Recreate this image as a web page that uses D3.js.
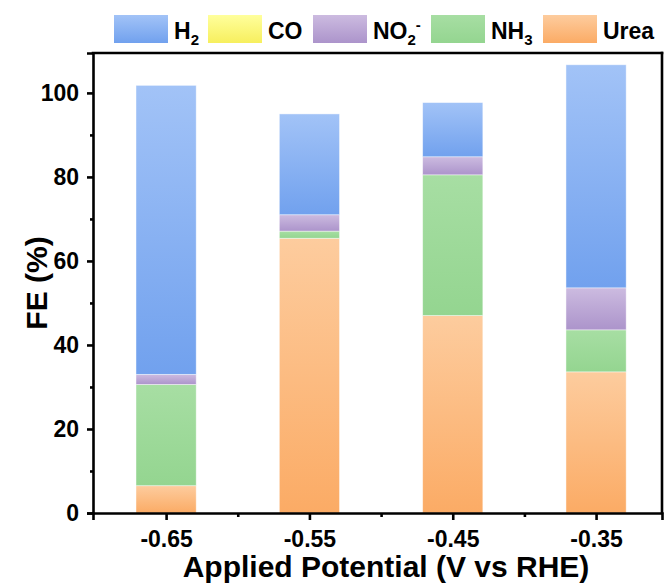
<!DOCTYPE html>
<html>
<head>
<meta charset="utf-8">
<script src="https://cdn.jsdelivr.net/npm/d3@7"></script>
<style>
  body { margin: 0; background: #fff; }
  svg { display: block; }
  text { font-family: "Liberation Sans", Arial, sans-serif; font-weight: bold; fill: #000; }
</style>
</head>
<body>
<svg id="chart" width="667" height="586"></svg>
<script>
// Faradaic efficiency (%) of each product at each applied potential
const potentials = [-0.65, -0.55, -0.45, -0.35];
const urea = [6.5, 65.4, 47.0, 33.6];
const nh3  = [24.1, 1.7, 33.5, 10.0];
const no2  = [2.4, 3.9, 4.3, 10.0];
const co   = [0, 0, 0, 0];
const h2   = [68.8, 24.0, 12.9, 53.1];

// stacking order, bottom to top
const seriesKeys = ["urea", "nh3", "no2", "co", "h2"];
// legend order, left to right
const legendKeys = ["h2", "co", "no2", "nh3", "urea"];

const yTicks = [0, 20, 40, 60, 80, 100];
const yMinorTicks = [10, 30, 50, 70, 90];
const xTicks = [-0.65, -0.55, -0.45, -0.35];
const xMinorTicks = [-0.60, -0.50, -0.40];
const xTickLabels = ["-0.65", "-0.55", "-0.45", "-0.35"];

const yTitle = "FE (%)";
const xTitle = "Applied Potential (V vs RHE)";

// label pieces: [main text, subscript, superscript]
const legendLabels = {
  h2:   ["H", "2", ""],
  co:   ["CO", "", ""],
  no2:  ["NO", "2", "-"],
  nh3:  ["NH", "3", ""],
  urea: ["Urea", "", ""]
};

// vertical gradient stops (top, bottom) per product
const gradStops = {
  h2:   ["#a2c3f7", "#71a1ee"],
  co:   ["#ffff9c", "#f7ef5e"],
  no2:  ["#ccbbe0", "#ac94cb"],
  nh3:  ["#a7dea3", "#94d590"],
  urea: ["#fdcc9e", "#fbab65"]
};

const rows = potentials.map((p, i) => ({
  p, urea: urea[i], nh3: nh3[i], no2: no2[i], co: co[i], h2: h2[i]
}));

const svg = d3.select("#chart");

const x = d3.scaleLinear().domain([-0.701, -0.304]).range([93, 662]);
const y = d3.scaleLinear().domain([0, 109.5]).range([513, 53]);

const defs = svg.append("defs");
Object.keys(gradStops).forEach(k => {
  const g = defs.append("linearGradient")
    .attr("id", "grad-" + k)
    .attr("x1", 0).attr("y1", 0).attr("x2", 0).attr("y2", 1);
  g.append("stop").attr("offset", "0%").attr("stop-color", gradStops[k][0]);
  g.append("stop").attr("offset", "100%").attr("stop-color", gradStops[k][1]);
});

// stacked bars
const stack = d3.stack().keys(seriesKeys);
const layers = stack(rows);
const barW = (x(potentials[1]) - x(potentials[0])) * 0.42;

svg.append("g").selectAll("g")
  .data(layers)
  .join("g")
  .attr("fill", d => `url(#grad-${d.key})`)
  .selectAll("rect")
  .data(d => d.filter(s => s[1] - s[0] > 0))
  .join("rect")
  .attr("x", d => x(d.data.p) - barW / 2)
  .attr("width", barW)
  .attr("y", d => y(d[1]))
  .attr("height", d => y(d[0]) - y(d[1]))
  .attr("stroke", "rgba(255,255,255,0.55)")
  .attr("stroke-width", 0.8);

// axes
const axisW = 2.6;

const yAxis = svg.append("g")
  .attr("transform", `translate(${x.range()[0]},0)`)
  .call(d3.axisLeft(y).tickValues(yTicks).tickSize(6).tickPadding(8).tickFormat(d3.format("d")));
const yMinor = svg.append("g")
  .attr("transform", `translate(${x.range()[0]},0)`)
  .call(d3.axisLeft(y).tickValues(yMinorTicks).tickSize(3).tickFormat(""));

const xAxis = svg.append("g")
  .attr("transform", `translate(0,${y.range()[0]})`)
  .call(d3.axisBottom(x).tickValues(xTicks).tickSize(7).tickPadding(11)
    .tickFormat((d, i) => xTickLabels[i]));
const xMinor = svg.append("g")
  .attr("transform", `translate(0,${y.range()[0]})`)
  .call(d3.axisBottom(x).tickValues(xMinorTicks).tickSize(4).tickFormat(""));

[yAxis, yMinor, xAxis, xMinor].forEach(g => {
  g.select(".domain").attr("stroke", "#000").attr("stroke-width", axisW);
  g.selectAll(".tick line").attr("stroke", "#000").attr("stroke-width", axisW);
  g.selectAll(".tick text").style("font-size", "23px")
    .style("font-family", '"Liberation Sans", Arial, sans-serif').style("font-weight", "bold");
});
yMinor.select(".domain").remove();
xMinor.select(".domain").remove();

// top and right frame lines
svg.append("line")
  .attr("x1", x.range()[0]).attr("x2", x.range()[1])
  .attr("y1", y.range()[1]).attr("y2", y.range()[1])
  .attr("stroke", "#000").attr("stroke-width", axisW).attr("stroke-linecap", "square");
svg.append("line")
  .attr("x1", x.range()[1]).attr("x2", x.range()[1])
  .attr("y1", y.range()[1]).attr("y2", y.range()[0])
  .attr("stroke", "#000").attr("stroke-width", axisW).attr("stroke-linecap", "square");

// axis titles
svg.append("text")
  .attr("transform", `translate(47,${(y.range()[0] + y.range()[1]) / 2}) rotate(-90)`)
  .attr("text-anchor", "middle")
  .style("font-size", "30px")
  .text(yTitle);

svg.append("text")
  .attr("x", 386).attr("y", 577)
  .attr("text-anchor", "middle")
  .style("font-size", "30px")
  .text(xTitle);

// legend
const legendX = [114, 208, 313, 431, 543];
const legend = svg.append("g");
legendKeys.forEach((k, i) => {
  const g = legend.append("g").attr("transform", `translate(${legendX[i]},0)`);
  g.append("rect")
    .attr("x", 0).attr("y", 15).attr("width", 54).attr("height", 28)
    .attr("fill", `url(#grad-${k})`);
  const [main, sub, sup] = legendLabels[k];
  const t = g.append("text").attr("x", 60).attr("y", 39).style("font-size", "23px");
  t.append("tspan").text(main);
  if (sub) t.append("tspan").attr("dy", 6).style("font-size", "15px").text(sub);
  if (sup) t.append("tspan").attr("dy", -15).style("font-size", "15px").text(sup);
});
</script>
</body>
</html>
